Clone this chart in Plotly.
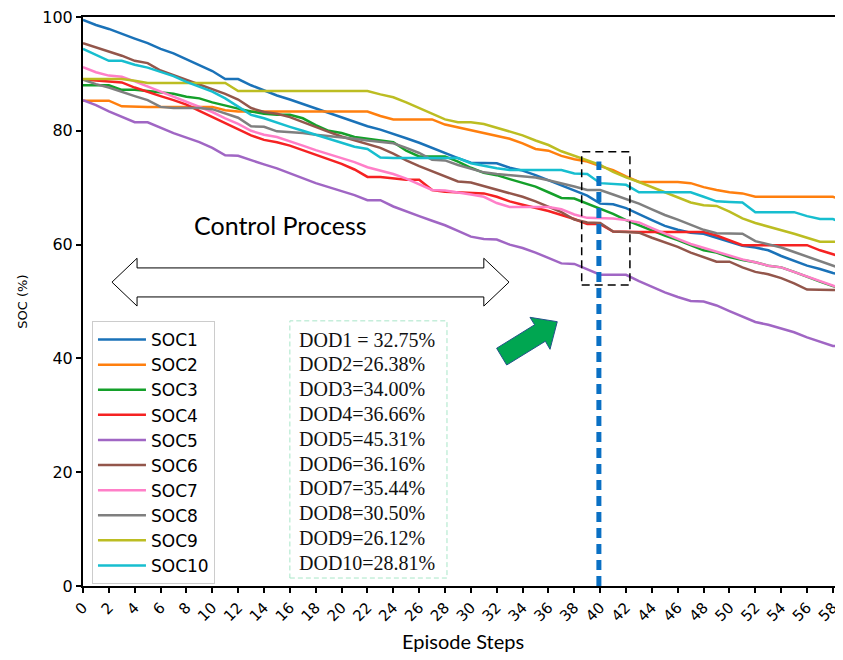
import plotly.graph_objects as go

steps = list(range(60))

soc1 = [99.5, 98.6, 97.9, 97.0, 96.2, 95.4, 94.4, 93.6, 92.6, 91.6, 90.5, 89.1, 89.1, 88.0, 87.1, 86.2, 85.5, 84.7, 83.9, 83.1,
        82.4, 81.5, 80.8, 80.2, 79.5, 78.7, 77.9, 77.0, 76.0, 75.2, 74.4, 74.3, 74.3, 73.5, 73.0, 72.2, 71.3, 70.4, 69.6, 68.6,
        67.2, 67.1, 66.4, 65.3, 64.3, 63.3, 62.6, 62.1, 61.9, 61.2, 60.5, 59.8, 59.5, 59.0, 58.0, 57.1, 56.3, 55.7, 55.0, 54.5]
soc2 = [85.3, 85.3, 85.3, 84.3, 84.2, 84.2, 84.2, 84.2, 84.2, 84.2, 84.2, 83.6, 83.4, 83.4, 83.4, 83.4, 83.4, 83.4, 83.4, 83.4,
        83.4, 83.4, 83.4, 82.6, 82.0, 82.0, 82.0, 82.0, 81.1, 80.6, 80.2, 79.6, 79.2, 78.6, 77.8, 76.8, 76.5, 75.6, 75.0, 74.6,
        73.8, 73.1, 72.0, 71.0, 71.0, 71.0, 71.0, 70.8, 70.1, 69.6, 69.2, 69.0, 68.4, 68.4, 68.4, 68.4, 68.4, 68.4, 68.4, 67.6]
soc3 = [88.0, 88.0, 88.0, 87.2, 87.2, 87.0, 86.8, 86.5, 86.0, 85.7, 85.0, 84.4, 83.9, 83.4, 83.0, 82.8, 82.8, 82.2, 81.0, 80.0,
        79.6, 78.9, 78.6, 78.2, 78.0, 76.5, 75.5, 75.5, 75.5, 74.6, 73.5, 72.6, 72.2, 71.5, 70.8, 70.2, 69.2, 68.2, 68.1, 67.2,
        66.4, 65.4, 64.3, 63.4, 62.4, 61.6, 60.8, 59.9, 59.0, 58.6, 57.8, 57.3, 56.9, 56.3, 56.0, 55.2, 54.3, 53.5, 52.7, 52.0]
soc4 = [89.0, 88.8, 88.6, 88.5, 87.6, 86.8, 86.1, 85.4, 84.6, 83.5, 82.4, 81.3, 80.3, 79.2, 78.4, 78.0, 77.4, 76.6, 75.7, 75.0,
        74.2, 73.2, 71.9, 71.9, 71.6, 71.4, 71.4, 69.6, 69.3, 69.2, 69.0, 69.0, 68.4, 67.6, 67.0, 66.5, 65.9, 65.2, 64.5, 63.6,
        63.6, 62.3, 62.2, 62.2, 62.2, 62.2, 62.2, 62.2, 62.2, 61.6, 60.8, 59.9, 59.9, 59.9, 59.9, 59.9, 59.9, 59.0, 58.3, 57.6]
soc5 = [85.4, 84.5, 83.4, 82.4, 81.5, 81.5, 80.5, 79.6, 78.8, 78.0, 77.0, 75.7, 75.6, 74.8, 74.1, 73.4, 72.5, 71.6, 70.8, 70.1,
        69.4, 68.7, 67.8, 67.8, 66.7, 65.8, 65.0, 64.2, 63.4, 62.4, 61.4, 61.0, 60.9, 60.0, 59.4, 58.6, 57.7, 56.7, 56.6, 55.7,
        54.7, 54.7, 54.7, 53.6, 52.6, 51.6, 50.8, 50.1, 50.0, 49.3, 48.3, 47.3, 46.4, 45.9, 45.2, 44.6, 43.7, 42.9, 42.2, 42.2]
soc6 = [95.4, 94.7, 94.0, 93.2, 92.3, 91.9, 90.6, 89.8, 89.0, 88.2, 87.3, 86.5, 85.5, 84.0, 83.3, 83.0, 82.4, 81.5, 80.7, 79.8,
        79.0, 78.3, 77.6, 77.0, 76.0, 74.8, 73.8, 72.9, 72.0, 71.1, 70.9, 70.3, 69.6, 69.0, 68.4, 67.6, 66.7, 65.7, 64.4, 63.9,
        63.8, 62.3, 62.2, 62.1, 61.2, 60.4, 59.6, 58.6, 57.8, 57.0, 57.0, 56.0, 55.2, 54.8, 54.1, 53.2, 52.1, 52.0, 52.0, 52.0]
soc7 = [91.2, 90.3, 89.7, 89.5, 88.7, 87.8, 86.9, 86.0, 85.2, 84.3, 83.3, 82.2, 81.2, 80.0, 79.3, 78.9, 78.2, 77.4, 76.6, 75.9,
        75.3, 74.5, 73.6, 73.0, 72.4, 71.6, 70.6, 69.6, 69.5, 69.2, 68.8, 68.4, 67.3, 66.6, 66.6, 66.6, 66.6, 66.2, 65.3, 64.7,
        64.6, 64.6, 64.3, 63.9, 62.9, 61.9, 61.0, 60.1, 59.4, 58.8, 58.1, 57.4, 56.9, 56.3, 56.0, 55.2, 54.3, 53.5, 52.7, 52.0]
soc8 = [89.0, 88.2, 87.6, 86.8, 86.1, 85.4, 84.2, 84.0, 84.0, 84.0, 83.8, 83.0, 82.3, 80.8, 80.7, 79.9, 79.8, 79.6, 79.3, 79.1,
        78.9, 78.6, 78.3, 78.0, 77.8, 77.0, 76.1, 74.9, 74.8, 74.0, 73.3, 72.7, 72.4, 72.2, 72.0, 71.8, 71.3, 70.8, 70.2, 69.6,
        69.6, 68.8, 68.0, 67.2, 66.2, 65.2, 64.4, 63.5, 62.6, 62.0, 61.9, 61.9, 60.6, 60.1, 59.5, 58.7, 57.9, 57.2, 56.3, 55.5]
soc9 = [89.1, 89.1, 89.1, 89.1, 88.8, 88.4, 88.4, 88.4, 88.4, 88.4, 88.4, 88.4, 87.0, 87.0, 87.0, 87.0, 87.0, 87.0, 87.0, 87.0,
        87.0, 87.0, 87.0, 86.4, 85.9, 85.0, 84.0, 83.0, 82.0, 81.5, 81.5, 81.2, 80.5, 79.9, 79.2, 78.3, 77.5, 76.4, 75.6, 74.8,
        74.0, 72.8, 71.8, 71.0, 70.1, 69.3, 68.4, 67.4, 66.9, 66.8, 65.8, 64.6, 63.8, 63.2, 62.6, 61.9, 61.2, 60.5, 60.5, 60.5]
soc10 = [94.4, 93.3, 92.3, 92.3, 91.6, 91.1, 90.3, 89.6, 88.6, 87.7, 86.9, 85.7, 84.2, 82.8, 82.2, 81.4, 80.7, 80.0, 79.3, 78.6,
         77.9, 77.2, 76.8, 75.3, 75.2, 75.2, 75.2, 75.2, 75.2, 75.2, 74.3, 73.8, 73.4, 73.1, 73.1, 73.1, 73.1, 73.1, 72.5, 72.4,
         70.8, 70.6, 70.5, 69.2, 69.2, 69.2, 69.2, 69.2, 68.4, 67.6, 67.5, 67.4, 65.7, 65.7, 65.7, 65.7, 65.0, 64.5, 64.5, 63.6]

series_names = ["SOC1", "SOC2", "SOC3", "SOC4", "SOC5", "SOC6", "SOC7", "SOC8", "SOC9", "SOC10"]
series_values = [soc1, soc2, soc3, soc4, soc5, soc6, soc7, soc8, soc9, soc10]
colors = ["#1a72b8", "#ff7f0e", "#14a02a", "#f52222", "#a066c4",
          "#93564b", "#ff7fc8", "#7f7f7f", "#bcbd22", "#17becf"]

dod_labels = ["DOD1 = 32.75%", "DOD2=26.38%", "DOD3=34.00%", "DOD4=36.66%", "DOD5=45.31%",
              "DOD6=36.16%", "DOD7=35.44%", "DOD8=30.50%", "DOD9=26.12%", "DOD10=28.81%"]

x_ticks = list(range(0, 59, 2))

fig = go.Figure()
for name, vals, col in zip(series_names, series_values, colors):
    fig.add_trace(go.Scatter(x=steps, y=vals, mode="lines", name=name,
                             line=dict(color=col, width=2.5)))

shapes = []
# hollow double arrow
shapes.append(dict(type="path", xref="x", yref="y",
                   path="M 2.24,53.4 L 4.18,57.6 L 4.18,55.9 L 31.0,55.9 L 31.0,57.6 L 32.95,53.4 "
                        "L 31.0,49.2 L 31.0,50.8 L 4.18,50.8 L 4.18,49.2 Z",
                   fillcolor="white", line=dict(color="black", width=1), layer="above"))
# green arrow
shapes.append(dict(type="path", xref="x", yref="y",
                   path="M 31.99,41.78 L 34.93,45.91 L 34.57,47.22 L 36.68,46.45 L 36.12,41.60 "
                        "L 35.76,43.02 L 32.77,38.84 Z",
                   fillcolor="#00a651", line=dict(color="#24528a", width=1), layer="above"))
# dashed black rectangle
shapes.append(dict(type="rect", xref="x", yref="y", x0=38.57, x1=42.3, y0=52.9, y1=76.3,
                   line=dict(color="black", width=1.5, dash="8px,5px"), layer="above"))
# blue dotted line
shapes.append(dict(type="line", xref="x", yref="y", x0=39.9, x1=39.9, y0=0, y1=74.6,
                   line=dict(color="#0a70c4", width=5, dash="10px,6px"), layer="above"))
# DOD box
shapes.append(dict(type="rect", xref="x", yref="y", x0=16.0, x1=28.15, y0=1.4, y1=46.6,
                   line=dict(color="#a8e6c8", width=1, dash="5px,3px"), layer="above"))

annotations = []
annotations.append(dict(x=15.31, y=63.44, xref="x", yref="y", text="Control Process", showarrow=False,
                        font=dict(family="Lato", size=25, color="black")))
for i, t in enumerate(dod_labels):
    py = 339.6 + i * 24.8
    annotations.append(dict(x=16.55, y=(586 - py) / 5.69, xref="x", yref="y", text=t, showarrow=False,
                            xanchor="left", yanchor="middle",
                            font=dict(family="Liberation Serif", size=20, color="#111")))
annotations.append(dict(x=0.5, y=-0.0967, xref="paper", yref="paper", text="Episode Steps", showarrow=False,
                        xanchor="center", yanchor="middle", font=dict(family="Lato", size=20, color="black")))
annotations.append(dict(x=-0.08, y=0.5, xref="paper", yref="paper", text="SOC (%)", showarrow=False,
                        textangle=-90, xanchor="center", yanchor="middle",
                        font=dict(family="DejaVu Sans", size=13, color="black")))

fig.update_layout(
    width=835, height=652,
    margin=dict(l=75, r=0, t=9, b=74, autoexpand=False),
    plot_bgcolor="white", paper_bgcolor="white",
    shapes=shapes, annotations=annotations,
    showlegend=True,
    legend=dict(x=0.0118, y=0.4657, xanchor="left", yanchor="top", itemwidth=48,
                bordercolor="#cccccc", borderwidth=1, bgcolor="rgba(255,255,255,0.9)",
                font=dict(family="DejaVu Sans", size=17, color="black")),
    xaxis=dict(range=[0, 58.78], tickmode="array", tickvals=x_ticks, ticktext=[str(v) for v in x_ticks],
               tickangle=-45, ticks="outside", ticklen=5, tickwidth=1.5, tickcolor="black", automargin=False,
               showline=True, linecolor="black", linewidth=2, mirror=True, showgrid=False, zeroline=False,
               ticklabeloverflow="allow",
               tickfont=dict(family="DejaVu Sans", size=15, color="black")),
    yaxis=dict(range=[0, 100], tickvals=[0, 20, 40, 60, 80, 100], ticks="outside", ticklen=5, tickwidth=1.5,
               tickcolor="black", showline=True, linecolor="black", linewidth=2, showgrid=False, zeroline=False,
               automargin=False, ticklabeloverflow="allow",
               tickfont=dict(family="DejaVu Sans", size=16, color="black")),
)

fig.write_html("out.html")
